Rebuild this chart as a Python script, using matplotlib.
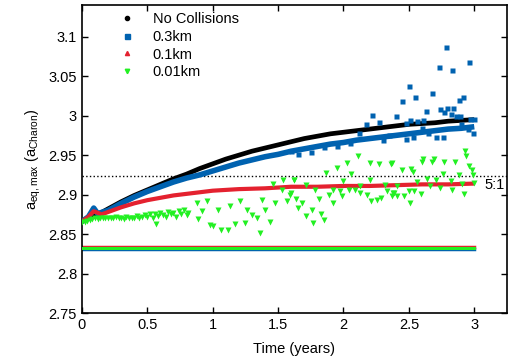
import matplotlib
matplotlib.use('Agg')
import matplotlib.pyplot as plt
from matplotlib.lines import Line2D

plt.rcParams['font.family'] = ['Liberation Sans', 'DejaVu Sans']
plt.rcParams['mathtext.default'] = 'regular'

# No collisions (smooth band)
t_nc = [0.0, 0.1, 0.2, 0.3, 0.4, 0.5, 0.6, 0.7, 0.8, 0.9, 1.0, 1.1, 1.2, 1.3, 1.4, 1.5,
        1.6, 1.7, 1.8, 1.9, 2.0, 2.1, 2.2, 2.3, 2.4, 2.5, 2.6, 2.7, 2.8, 2.9, 3.0]
a_nc = [2.866, 2.873, 2.882, 2.891, 2.899, 2.906, 2.913, 2.920, 2.926, 2.933, 2.939, 2.945,
        2.950, 2.955, 2.959, 2.963, 2.967, 2.971, 2.974, 2.977, 2.979, 2.981, 2.983, 2.985,
        2.987, 2.989, 2.990, 2.991, 2.993, 2.994, 2.995]

# 0.3 km: main band + scattered points
t_03 = [0.0, 0.05, 0.09, 0.12, 0.2, 0.3, 0.4, 0.5, 0.6, 0.7, 0.8, 0.9, 1.0, 1.1, 1.2, 1.3,
        1.4, 1.5, 1.6, 1.7, 1.8, 1.9, 2.0, 2.1, 2.2, 2.3, 2.4, 2.5, 2.6, 2.7, 2.8, 2.9, 3.0]
a_03 = [2.866, 2.872, 2.883, 2.876, 2.880, 2.889, 2.897, 2.904, 2.910, 2.916, 2.921, 2.925,
        2.930, 2.935, 2.940, 2.944, 2.948, 2.951, 2.955, 2.958, 2.961, 2.964, 2.966, 2.969,
        2.971, 2.973, 2.975, 2.977, 2.979, 2.981, 2.983, 2.984, 2.986]
t_03s = [2.78, 2.96, 2.73, 2.83, 2.50, 2.68, 2.55, 2.45, 2.91, 2.88, 2.63, 2.74, 2.795, 2.84,
         2.77, 2.82, 2.22, 2.405, 2.175, 2.275, 2.86, 2.89, 2.97, 3.0, 2.48, 2.51, 2.565, 2.61,
         2.71, 2.76, 2.535, 2.48, 2.99, 2.12, 1.75, 1.85, 1.95, 2.05, 2.3, 2.35, 2.6, 2.65,
         2.9, 2.95, 1.6, 1.65]
a_03s = [3.087, 3.068, 3.061, 3.058, 3.038, 3.029, 3.023, 3.019, 3.023, 3.020, 3.006, 3.009,
         3.0095, 3.010, 3.004, 3.002, 3.001, 2.999, 2.990, 2.992, 3.000, 2.999, 2.996, 2.996,
         2.991, 2.994, 2.993, 2.994, 2.973, 2.973, 2.973, 2.971, 2.978, 2.978, 2.954, 2.960,
         2.962, 2.966, 2.969, 2.975, 2.985, 2.978, 2.990, 2.983, 2.955, 2.952]

# 0.1 km
t_01 = [0.0, 0.05, 0.09, 0.15, 0.2, 0.3, 0.4, 0.5, 0.6, 0.7, 0.8, 0.9, 1.0, 1.2, 1.4, 1.6,
        1.8, 2.0, 2.2, 2.4, 2.6, 2.8, 3.0]
a_01 = [2.866, 2.872, 2.879, 2.875, 2.878, 2.884, 2.889, 2.893, 2.896, 2.899, 2.901, 2.903,
        2.905, 2.907, 2.908, 2.910, 2.910, 2.911, 2.911, 2.912, 2.913, 2.913, 2.914]

# 0.01 km
t_001 = [0.0, 0.02, 0.04, 0.06, 0.08, 0.1, 0.12, 0.14, 0.16, 0.18, 0.2, 0.22, 0.24, 0.26,
         0.28, 0.3, 0.32, 0.34, 0.36, 0.38, 0.4, 0.42, 0.44, 0.46, 0.48, 0.5, 0.52, 0.54,
         0.56, 0.57, 0.58, 0.6, 0.62, 0.64, 0.66, 0.68, 0.7, 0.72, 0.74, 0.76, 0.78, 0.8,
         0.81, 0.877, 0.89, 0.916, 0.96, 0.98, 1.005, 1.04, 1.06, 1.115, 1.13, 1.17, 1.21,
         1.25, 1.26, 1.30, 1.34, 1.36, 1.38, 1.40, 1.44, 1.46, 1.48, 1.53, 1.54, 1.57, 1.59,
         1.60, 1.62, 1.62, 1.64, 1.655, 1.68, 1.71, 1.71, 1.76, 1.77, 1.78, 1.81, 1.83, 1.85,
         1.87, 1.89, 1.92, 1.92, 1.95, 1.97, 1.99, 2.0, 2.03, 2.04, 2.06, 2.09, 2.11, 2.13,
         2.13, 2.18, 2.20, 2.20, 2.21, 2.26, 2.275, 2.29, 2.32, 2.33, 2.36, 2.37, 2.37, 2.38,
         2.39, 2.41, 2.41, 2.45, 2.46, 2.50, 2.51, 2.52, 2.535, 2.54, 2.56, 2.59, 2.60, 2.61,
         2.64, 2.66, 2.68, 2.69, 2.71, 2.74, 2.76, 2.77, 2.82, 2.83, 2.85, 2.88, 2.905, 2.92,
         2.93, 2.94, 2.96, 2.98, 2.99, 3.0]
a_001 = [2.865, 2.866, 2.867, 2.868, 2.869, 2.870, 2.869, 2.870, 2.871, 2.870, 2.871, 2.870,
         2.871, 2.872, 2.870, 2.871, 2.869, 2.872, 2.870, 2.871, 2.870, 2.873, 2.871, 2.872,
         2.874, 2.872, 2.875, 2.870, 2.876, 2.863, 2.873, 2.877, 2.874, 2.872, 2.878, 2.875,
         2.877, 2.872, 2.879, 2.876, 2.880, 2.874, 2.877, 2.8895, 2.869, 2.879, 2.8915, 2.862,
         2.860, 2.880, 2.8556, 2.855, 2.886, 2.863, 2.8915, 2.864, 2.880, 2.8746, 2.870,
         2.852, 2.8937, 2.881, 2.866, 2.914, 2.8895, 2.906, 2.919, 2.8915, 2.900, 2.902,
         2.919, 2.919, 2.8945, 2.883, 2.8895, 2.9127, 2.8733, 2.881, 2.864, 2.9055, 2.8945,
         2.876, 2.868, 2.928, 2.900, 2.9063, 2.890, 2.934, 2.904, 2.898, 2.917, 2.940, 2.906,
         2.9267, 2.906, 2.9495, 2.9105, 2.902, 2.900, 2.940, 2.918, 2.8915, 2.8937, 2.939,
         2.896, 2.9127, 2.904, 2.939, 2.898, 2.940, 2.902, 2.902, 2.9105, 2.898, 2.9317,
         2.898, 2.904, 2.890, 2.9326, 2.929, 2.904, 2.9156, 2.901, 2.941, 2.9457, 2.920,
         2.9105, 2.941, 2.9457, 2.918, 2.9085, 2.9267, 2.941, 2.917, 2.906, 2.941, 2.9245,
         2.914, 2.901, 2.955, 2.9486, 2.936, 2.931, 2.925, 2.915]

# lower (constant) values
a_min_01 = 2.8335
a_min_001 = 2.8325
a_min_03 = 2.8315
t_min = [0.0, 3.0]

c_blue = '#0062b0'
c_red = '#e4212f'
c_green = '#22f022'

fig = plt.figure(figsize=(5.09, 3.62), dpi=100)
ax = fig.add_axes([0.161, 0.135, 0.835, 0.851])

ax.axhline(2.923, color='black', ls=':', lw=1.0, zorder=1)

ax.plot(t_min, [a_min_03] * 2, color=c_blue, lw=2.5, zorder=2)
ax.plot(t_min, [a_min_01] * 2, color=c_red, lw=2.5, zorder=2)
ax.plot(t_min, [a_min_001] * 2, color=c_green, lw=2.2, zorder=3)

ax.plot(t_nc, a_nc, color='black', lw=3.4, zorder=4, solid_capstyle='butt')
ax.plot(t_03, a_03, color=c_blue, lw=4.0, zorder=5, solid_capstyle='butt')
ax.plot(t_03s, a_03s, ls='none', marker='s', ms=3.6, color=c_blue, mec='none', zorder=5)
ax.plot(t_01, a_01, color=c_red, lw=3.0, zorder=6, solid_capstyle='butt')
ax.plot(t_001, a_001, ls='none', marker='v', ms=3.8, color=c_green, mec='none', zorder=7)

ax.text(3.08, 2.912, '5:1', fontsize=10.5, va='center', ha='left')

ax.set_xlim(0, 3.25)
ax.set_ylim(2.75, 3.14)
ax.set_xticks([0, 0.5, 1, 1.5, 2, 2.5, 3])
ax.set_xticklabels(['0', '0.5', '1', '1.5', '2', '2.5', '3'])
ax.set_yticks([2.75, 2.8, 2.85, 2.9, 2.95, 3.0, 3.05, 3.1])
ax.set_yticklabels(['2.75', '2.8', '2.85', '2.9', '2.95', '3', '3.05', '3.1'])
ax.tick_params(direction='in', top=True, right=True, labelsize=10.5, length=4, width=1)
for s in ax.spines.values():
    s.set_linewidth(1.2)

ax.set_xlabel('Time (years)', fontsize=10.5, labelpad=7)
ax.set_ylabel(r'a$_{eq,max}$ (a$_{Charon}$)', fontsize=10.5, labelpad=4)

handles = [Line2D([], [], ls='none', marker='o', ms=3, color='black'),
           Line2D([], [], ls='none', marker='s', ms=3.6, color=c_blue),
           Line2D([], [], ls='none', marker='^', ms=3, color=c_red),
           Line2D([], [], ls='none', marker='v', ms=3.2, color=c_green)]
ax.legend(handles, ['No Collisions', '0.3km', '0.1km', '0.01km'], loc='upper left',
          bbox_to_anchor=(0.06, 1.005), frameon=False, fontsize=10.5, handlelength=1.5,
          handletextpad=1.0, labelspacing=0.25, borderaxespad=0.2)

plt.savefig('out.png', dpi=100)
